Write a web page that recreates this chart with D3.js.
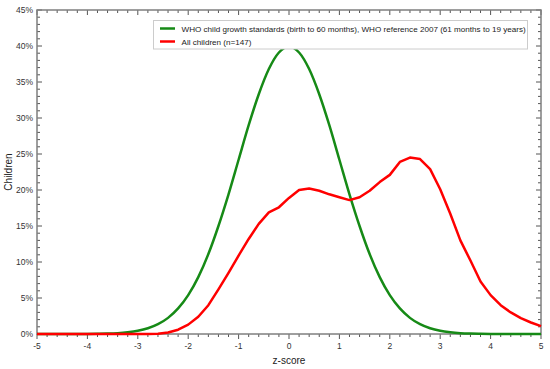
<!DOCTYPE html>
<html>
<head>
<meta charset="utf-8">
<script src="https://cdn.jsdelivr.net/npm/d3@7"></script>
<style>
  html, body { margin: 0; padding: 0; background: #fff; }
  text { font-family: "Liberation Sans", Arial, sans-serif; }
</style>
</head>
<body>
<svg id="chart" width="550" height="369"></svg>
<script>
// ---- data ----
const zScores = [-5,-4.8,-4.6,-4.4,-4.2,-4,-3.8,-3.6,-3.4,-3.2,-3,-2.8,-2.6,-2.4,-2.2,-2,-1.8,-1.6,-1.4,-1.2,-1,-0.8,-0.6,-0.4,-0.2,0,0.2,0.4,0.6,0.8,1,1.2,1.4,1.6,1.8,2,2.2,2.4,2.6,2.8,3,3.2,3.4,3.6,3.8,4,4.2,4.4,4.6,4.8,5];
const whoValues = [0,0,0,0,0,0.01,0.03,0.06,0.12,0.24,0.44,0.79,1.36,2.24,3.55,5.4,7.9,11.1,15.0,19.4,24.2,29.0,33.3,36.8,39.1,39.9,39.1,36.8,33.3,29.0,24.2,19.4,15.0,11.1,7.9,5.4,3.55,2.24,1.36,0.79,0.44,0.24,0.12,0.06,0.03,0.01,0,0,0,0,0];
const allChildren = [0,0,0,0,0,0,0,0,0,0,0,0,0.05,0.2,0.6,1.3,2.4,4.0,6.2,8.5,10.9,13.2,15.3,16.9,17.6,18.9,20.0,20.2,19.9,19.4,19.0,18.6,19.0,19.9,21.1,22.1,23.9,24.5,24.3,22.9,20.1,16.7,13.0,10.2,7.3,5.4,4.0,3.0,2.2,1.6,1.1];
const xTicks = [-5,-4,-3,-2,-1,0,1,2,3,4,5];
const yTicks = [0,5,10,15,20,25,30,35,40,45];
const seriesNames = ["WHO child growth standards (birth to 60 months), WHO reference 2007 (61 months to 19 years)", "All children (n=147)"];
const seriesColors = ["#168a16", "#ff0000"];

// ---- layout ----
const svg = d3.select("#chart");
const L = 37, R = 541, T = 10, B = 334;
const x = d3.scaleLinear().domain([-5, 5]).range([L, R]);
const y = d3.scaleLinear().domain([0, 45]).range([B, T]);
const axisColor = "#7f7f7f";

// minor ticks
const xMinor = d3.range(-5, 5.0001, 0.2).map(v => +v.toFixed(1));
const yMinor = d3.range(0, 45.0001, 1);

const g = svg.append("g");

// bottom axis (ticks outward)
g.selectAll(".xminb").data(xMinor).join("line")
  .attr("x1", d => x(d)).attr("x2", d => x(d))
  .attr("y1", B).attr("y2", d => xTicks.includes(d) ? B + 5 : B + 3)
  .attr("stroke", "#555").attr("stroke-width", 1);
// top axis (ticks inward)
g.selectAll(".xmint").data(xMinor).join("line")
  .attr("x1", d => x(d)).attr("x2", d => x(d))
  .attr("y1", T).attr("y2", d => xTicks.includes(d) ? T + 5 : T + 3)
  .attr("stroke", "#555").attr("stroke-width", 1);
// left axis (ticks inward)
g.selectAll(".yminl").data(yMinor).join("line")
  .attr("y1", d => y(d)).attr("y2", d => y(d))
  .attr("x1", L).attr("x2", d => yTicks.includes(d) ? L + 5 : L + 3)
  .attr("stroke", "#555").attr("stroke-width", 1);
// right axis (ticks inward)
g.selectAll(".yminr").data(yMinor).join("line")
  .attr("y1", d => y(d)).attr("y2", d => y(d))
  .attr("x1", R).attr("x2", d => yTicks.includes(d) ? R - 5 : R - 3)
  .attr("stroke", "#555").attr("stroke-width", 1);

// frame
g.append("rect").attr("x", L).attr("y", T).attr("width", R - L).attr("height", B - T)
  .attr("fill", "none").attr("stroke", axisColor).attr("stroke-width", 1.5);

// tick labels
g.selectAll(".xl").data(xTicks).join("text")
  .attr("x", d => x(d)).attr("y", B + 15)
  .attr("text-anchor", "middle").attr("font-size", 8.5).attr("fill", "#333")
  .text(d => d);
g.selectAll(".yl").data(yTicks).join("text")
  .attr("x", L - 4).attr("y", d => y(d) + 3)
  .attr("text-anchor", "end").attr("font-size", 8.5).attr("fill", "#333")
  .text(d => d + "%");

// axis titles
g.append("text").attr("x", x(0)).attr("y", 364).attr("text-anchor", "middle")
  .attr("font-size", 10).attr("fill", "#222").text("z-score");
g.append("text").attr("transform", "translate(12," + 172 + ") rotate(-90)")
  .attr("text-anchor", "middle").attr("font-size", 10).attr("fill", "#222").text("Children");

// lines
const smooth = d3.line().x((d, i) => x(zScores[i])).y(d => y(d)).curve(d3.curveMonotoneX);
const straight = d3.line().x((d, i) => x(zScores[i])).y(d => y(d)).curve(d3.curveLinear);
g.append("path").datum(whoValues).attr("d", smooth)
  .attr("fill", "none").attr("stroke", seriesColors[0]).attr("stroke-width", 2.5);
g.append("path").datum(allChildren).attr("d", straight)
  .attr("fill", "none").attr("stroke", seriesColors[1]).attr("stroke-width", 2.5)
  .attr("stroke-linejoin", "round");

// legend
const lg = svg.append("g");
lg.append("rect").attr("x", 153.5).attr("y", 20.5).attr("width", 374).attr("height", 28.5)
  .attr("fill", "#fff").attr("stroke", "#cccccc").attr("stroke-width", 1);
seriesNames.forEach((name, i) => {
  const yy = 28.5 + i * 13;
  lg.append("line").attr("x1", 160).attr("x2", 175).attr("y1", yy).attr("y2", yy)
    .attr("stroke", seriesColors[i]).attr("stroke-width", 2.5);
  lg.append("text").attr("x", 181.5).attr("y", yy + 3).attr("font-size", 8.1)
    .attr("fill", "#222").text(name);
});
</script>
</body>
</html>
